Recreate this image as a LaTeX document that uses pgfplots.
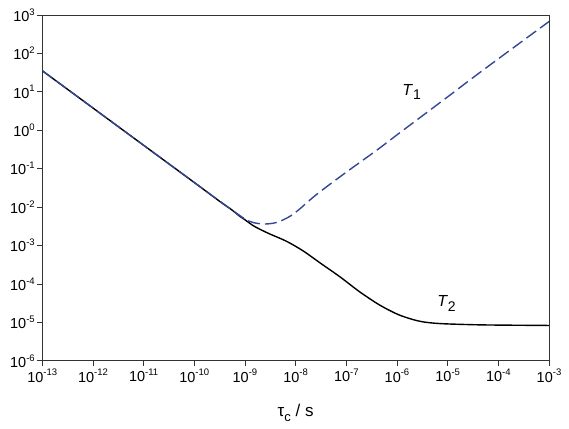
\documentclass[border=0pt]{standalone}
\usepackage{fontspec}
\setmainfont{Liberation Sans}
\usepackage{pgfplots}
\pgfplotsset{compat=1.18}

\definecolor{tonecolor}{RGB}{52,70,150}
\newcommand{\dec}[1]{10\raisebox{0.8ex}{\fontsize{9.5}{10}\selectfont #1}}

\begin{document}
\begin{tikzpicture}
\begin{axis}[
    scale only axis,
    width=507pt, height=346pt,
    xmode=log, ymode=log,
    xmin=1e-13, xmax=1e-3,
    ymin=1e-6, ymax=1e3,
    xtick={1e-13,1e-12,1e-11,1e-10,1e-9,1e-8,1e-7,1e-6,1e-5,1e-4,1e-3},
    xticklabels={\dec{-13},\dec{-12},\dec{-11},\dec{-10},\dec{-9},\dec{-8},\dec{-7},\dec{-6},\dec{-5},\dec{-4},\dec{-3}},
    ytick={1e-6,1e-5,1e-4,1e-3,1e-2,1e-1,1e0,1e1,1e2,1e3},
    yticklabels={\dec{-6},\dec{-5},\dec{-4},\dec{-3},\dec{-2},\dec{-1},\dec{0},\dec{1},\dec{2},\dec{3}},
    ticklabel style={font=\fontsize{14.5}{16}\selectfont},
    yticklabel style={xshift=1pt},
    tick align=outside,
    xtick pos=bottom, ytick pos=left,
    major tick length=5pt,
    minor tick style={draw=none},
    axis line style={black!80, line width=0.8pt},
    every tick/.style={black!80, line width=0.8pt},
    xlabel={τ\raisebox{-0.5ex}{\fontsize{13}{14}\selectfont c} / s},
    xlabel style={font=\fontsize{17}{19}\selectfont, at={(axis description cs:0.5,0)}, anchor=center, yshift=-52pt},
]
% T2
\addplot [black, line width=1.4pt, smooth, tension=0.5] coordinates {
    (1e-13, 35.5) (1e-12, 3.80) (1e-11, 0.407) (1e-10, 0.0437)
    (3.16e-10, 0.0142) (5.62e-10, 0.00830) (7.94e-10, 0.00575)
    (1e-9, 0.00468) (1.445e-9, 0.00331) (2.0e-9, 0.00263)
    (3.09e-9, 0.00200) (6.61e-9, 0.00129)
    (1.41e-8, 7.24e-4) (3.02e-8, 3.55e-4) (7.41e-8, 1.55e-4)
    (1.86e-7, 6.17e-5) (4.57e-7, 2.82e-5) (1.12e-6, 1.55e-5)
    (2.82e-6, 1.07e-5) (6.92e-6, 9.33e-6) (3.16e-5, 8.71e-6)
    (1e-4, 8.51e-6) (1e-3, 8.32e-6)
};
% T1
\addplot [tonecolor, line width=1.4pt, dash pattern=on 12pt off 5pt, smooth, tension=0.5] coordinates {
    (1e-13, 35.5) (1e-12, 3.80) (1e-11, 0.407) (1e-10, 0.0437)
    (3.16e-10, 0.0143) (5.62e-10, 0.00832) (1e-9, 0.00490)
    (1.445e-9, 0.00398) (2.29e-9, 0.00363) (3.55e-9, 0.00380)
    (4.90e-9, 0.00427) (7.94e-9, 0.00589) (1.20e-8, 0.00891)
    (1.78e-8, 0.0141) (3.02e-8, 0.0251) (1e-7, 0.0813)
    (3.98e-7, 0.302) (1e-6, 0.759) (1e-5, 7.41)
    (2.75e-5, 20.4) (1e-4, 72.4) (1e-3, 676)
};
\node[font=\fontsize{16}{18}\selectfont] at (axis cs:1.95e-6,10) {\textit{T}\raisebox{-0.5ex}{\fontsize{14}{15}\selectfont 1}};
\node[font=\fontsize{16}{18}\selectfont] at (axis cs:9.5e-6,3.1e-5) {\textit{T}\raisebox{-0.5ex}{\fontsize{14}{15}\selectfont 2}};
\end{axis}
\pgfresetboundingbox
\path (current axis.south west) ++(-42.3pt,-68pt) rectangle ([shift={(20pt,15pt)}]current axis.north east);
\end{tikzpicture}
\end{document}
